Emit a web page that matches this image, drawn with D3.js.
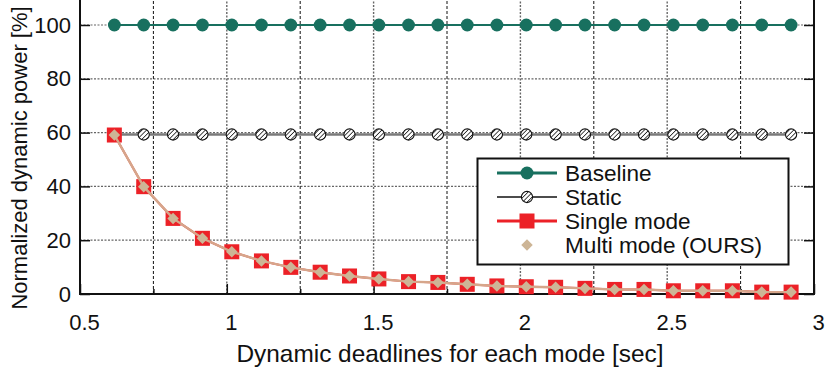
<!DOCTYPE html>
<html>
<head>
<meta charset="utf-8">
<script src="https://cdn.jsdelivr.net/npm/d3@7"></script>
<style>
  body { margin: 0; background: #fff; }
  svg text { font-family: "Liberation Sans", Arial, Helvetica, sans-serif; fill: #111; }
</style>
</head>
<body>
<div id="chart"></div>
<script>
const width = 827;
const height = 372;

// deadlines [sec]
const deadlines = [0.617, 0.717, 0.817, 0.917, 1.017, 1.118, 1.218, 1.318, 1.418, 1.518, 1.619, 1.719,
                   1.819, 1.920, 2.020, 2.120, 2.220, 2.321, 2.421, 2.521, 2.621, 2.722, 2.822, 2.922];
const baseline = [100, 100, 100, 100, 100, 100, 100, 100, 100, 100, 100, 100,
                  100, 100, 100, 100, 100, 100, 100, 100, 100, 100, 100, 100];
const staticPower = [59.3, 59.3, 59.3, 59.3, 59.3, 59.3, 59.3, 59.3, 59.3, 59.3, 59.3, 59.3,
                     59.3, 59.3, 59.3, 59.3, 59.3, 59.3, 59.3, 59.3, 59.3, 59.3, 59.3, 59.3];
const singleMode = [59.1, 39.9, 28.1, 20.7, 15.7, 12.3, 9.9, 8.1, 6.7, 5.6, 4.6, 4.3,
                    3.6, 3.0, 2.7, 2.5, 2.1, 1.7, 1.7, 1.2, 1.2, 1.2, 0.7, 0.7];
const multiMode = [59.1, 39.9, 28.1, 20.7, 15.7, 12.3, 9.9, 8.1, 6.7, 5.6, 4.6, 4.3,
                   3.6, 3.0, 2.7, 2.5, 2.1, 1.7, 1.7, 1.2, 1.2, 1.2, 0.7, 0.7];

const xMajor = [0.5, 1, 1.5, 2, 2.5, 3];
const xMinor = [0.75, 1.25, 1.75, 2.25, 2.75];
const yTicks = [0, 20, 40, 60, 80, 100];
const legendNames = ["Baseline", "Static", "Single mode", "Multi mode (OURS)"];

const teal = "#18705f";
const red = "#ec2127";
const tan = "#cdb596";
const tanLine = "#d6a68b";

const x = d3.scaleLinear().domain([0.5, 3]).range([80, 814]);
const y = d3.scaleLinear().domain([0, 100]).range([294, 25]);

const svg = d3.select("#chart").append("svg")
    .attr("width", width)
    .attr("height", height);

const defs = svg.append("defs");
const hatch = defs.append("pattern")
    .attr("id", "hatch")
    .attr("patternUnits", "userSpaceOnUse")
    .attr("width", 3.2).attr("height", 3.2)
    .attr("patternTransform", "rotate(45)");
hatch.append("rect").attr("width", 3.2).attr("height", 3.2).attr("fill", "#fff");
hatch.append("line")
    .attr("x1", 0).attr("y1", 0).attr("x2", 0).attr("y2", 3.2)
    .attr("stroke", "#111").attr("stroke-width", 1.5);

const yTop = -2;

// grid
const grid = svg.append("g");
grid.selectAll(".hgrid")
    .data(yTicks.filter(d => d > 0))
    .enter().append("line")
    .attr("x1", x(0.5)).attr("x2", x(3))
    .attr("y1", d => y(d)).attr("y2", d => y(d))
    .attr("stroke", "#666").attr("stroke-width", 1.2)
    .attr("stroke-dasharray", "2,1.5");
grid.selectAll(".vmajor")
    .data(xMajor.filter(d => d > 0.5 && d < 3))
    .enter().append("line")
    .attr("x1", d => x(d)).attr("x2", d => x(d))
    .attr("y1", y(0)).attr("y2", yTop)
    .attr("stroke", "#666").attr("stroke-width", 1.4)
    .attr("stroke-dasharray", "2,1.5");
grid.selectAll(".vminor")
    .data(xMinor)
    .enter().append("line")
    .attr("x1", d => x(d)).attr("x2", d => x(d))
    .attr("y1", y(0)).attr("y2", yTop)
    .attr("stroke", "#111").attr("stroke-width", 1)
    .attr("stroke-dasharray", "3,2");

// axes
const yAxis = svg.append("g")
    .attr("transform", `translate(${x(0.5)},0)`)
    .call(d3.axisLeft(y).tickValues(yTicks).tickSize(-10).tickPadding(9).tickSizeOuter(0));
yAxis.select(".domain").remove();
yAxis.selectAll("line").attr("stroke", "#111").attr("stroke-width", 1.5);
yAxis.selectAll("text").attr("font-size", "22px").attr("fill", "#111");

const yAxisR = svg.append("g")
    .attr("transform", `translate(${x(3)},0)`)
    .call(d3.axisRight(y).tickValues(yTicks).tickSize(-10).tickFormat(""));
yAxisR.select(".domain").remove();
yAxisR.selectAll("line").attr("stroke", "#111").attr("stroke-width", 1.5);

const xAxis = svg.append("g")
    .attr("transform", `translate(0,${y(0)})`)
    .call(d3.axisBottom(x).tickValues(xMajor).tickSize(-10).tickPadding(20)
        .tickFormat(d3.format("")));
xAxis.select(".domain").remove();
xAxis.selectAll("line").attr("stroke", "#111").attr("stroke-width", 1.5);
xAxis.selectAll("text").attr("font-size", "22px").attr("fill", "#111").attr("dx", 4);

const xAxisMinor = svg.append("g")
    .attr("transform", `translate(0,${y(0)})`)
    .call(d3.axisBottom(x).tickValues(xMinor).tickSize(-5).tickFormat(""));
xAxisMinor.select(".domain").remove();
xAxisMinor.selectAll("line").attr("stroke", "#111").attr("stroke-width", 1.5);

// border
svg.append("path")
    .attr("d", `M${x(0.5)},${yTop}V${y(0)}H${x(3)}V${yTop}`)
    .attr("fill", "none").attr("stroke", "#111").attr("stroke-width", 2);

const line = d3.line().x(d => x(d[0])).y(d => y(d[1]));
const pts = arr => deadlines.map((d, i) => [d, arr[i]]);

// static
svg.append("path").datum(pts(staticPower)).attr("d", line)
    .attr("fill", "none").attr("stroke", "#7a7a7a").attr("stroke-width", 2.6);
svg.selectAll(".st").data(pts(staticPower)).enter().append("circle")
    .attr("cx", d => x(d[0])).attr("cy", d => y(d[1])).attr("r", 5.6)
    .attr("fill", "url(#hatch)").attr("stroke", "#111").attr("stroke-width", 1.1);

// baseline
svg.append("path").datum(pts(baseline)).attr("d", line)
    .attr("fill", "none").attr("stroke", teal).attr("stroke-width", 2);
svg.selectAll(".bl").data(pts(baseline)).enter().append("circle")
    .attr("cx", d => x(d[0])).attr("cy", d => y(d[1])).attr("r", 6.4)
    .attr("fill", teal);

// single mode
svg.append("path").datum(pts(singleMode)).attr("d", line)
    .attr("fill", "none").attr("stroke", red).attr("stroke-width", 2);
svg.selectAll(".sm").data(pts(singleMode)).enter().append("rect")
    .attr("x", d => x(d[0]) - 7.5).attr("y", d => y(d[1]) - 7.5)
    .attr("width", 15).attr("height", 15)
    .attr("fill", red);

// multi mode
svg.append("path").datum(pts(multiMode)).attr("d", line)
    .attr("fill", "none").attr("stroke", tanLine).attr("stroke-width", 2.4);
const diamond = d3.symbol().type(d3.symbolDiamond2).size(85);
svg.selectAll(".mm").data(pts(multiMode)).enter().append("path")
    .attr("transform", d => `translate(${x(d[0])},${y(d[1])})`)
    .attr("d", diamond)
    .attr("fill", tan);

// legend
const lg = svg.append("g");
lg.append("rect")
    .attr("x", 477.5).attr("y", 158.5).attr("width", 311).attr("height", 106)
    .attr("fill", "#fff").attr("stroke", "#111").attr("stroke-width", 2);
const rowY = [173, 197, 221, 245];
const lx0 = 497, lx1 = 557, lm = 527;

lg.append("line").attr("x1", lx0).attr("x2", lx1).attr("y1", rowY[0]).attr("y2", rowY[0])
    .attr("stroke", teal).attr("stroke-width", 3);
lg.append("circle").attr("cx", lm).attr("cy", rowY[0]).attr("r", 6.5).attr("fill", teal);

lg.append("line").attr("x1", lx0).attr("x2", lx1).attr("y1", rowY[1]).attr("y2", rowY[1])
    .attr("stroke", "#111").attr("stroke-width", 1.5);
lg.append("circle").attr("cx", lm).attr("cy", rowY[1]).attr("r", 5.6)
    .attr("fill", "url(#hatch)").attr("stroke", "#111").attr("stroke-width", 1.1);

lg.append("line").attr("x1", lx0).attr("x2", lx1).attr("y1", rowY[2]).attr("y2", rowY[2])
    .attr("stroke", red).attr("stroke-width", 3);
lg.append("rect").attr("x", lm - 7.5).attr("y", rowY[2] - 7.5).attr("width", 15).attr("height", 15)
    .attr("fill", red);

lg.append("path").attr("transform", `translate(${lm},${rowY[3]})`).attr("d", diamond).attr("fill", tan);

lg.selectAll("text.lab").data(legendNames).enter().append("text")
    .attr("x", 565).attr("y", (d, i) => rowY[i]).attr("dy", "0.36em")
    .attr("font-size", "22.6px")
    .text(d => d);

// axis titles
svg.append("text")
    .attr("x", 450).attr("y", 362)
    .attr("text-anchor", "middle")
    .attr("font-size", "24.4px")
    .text("Dynamic deadlines for each mode [sec]");

svg.append("text")
    .attr("transform", "translate(27,158) rotate(-90)")
    .attr("text-anchor", "middle")
    .attr("font-size", "22px")
    .text("Normalized dynamic power [%]");
</script>
</body>
</html>
